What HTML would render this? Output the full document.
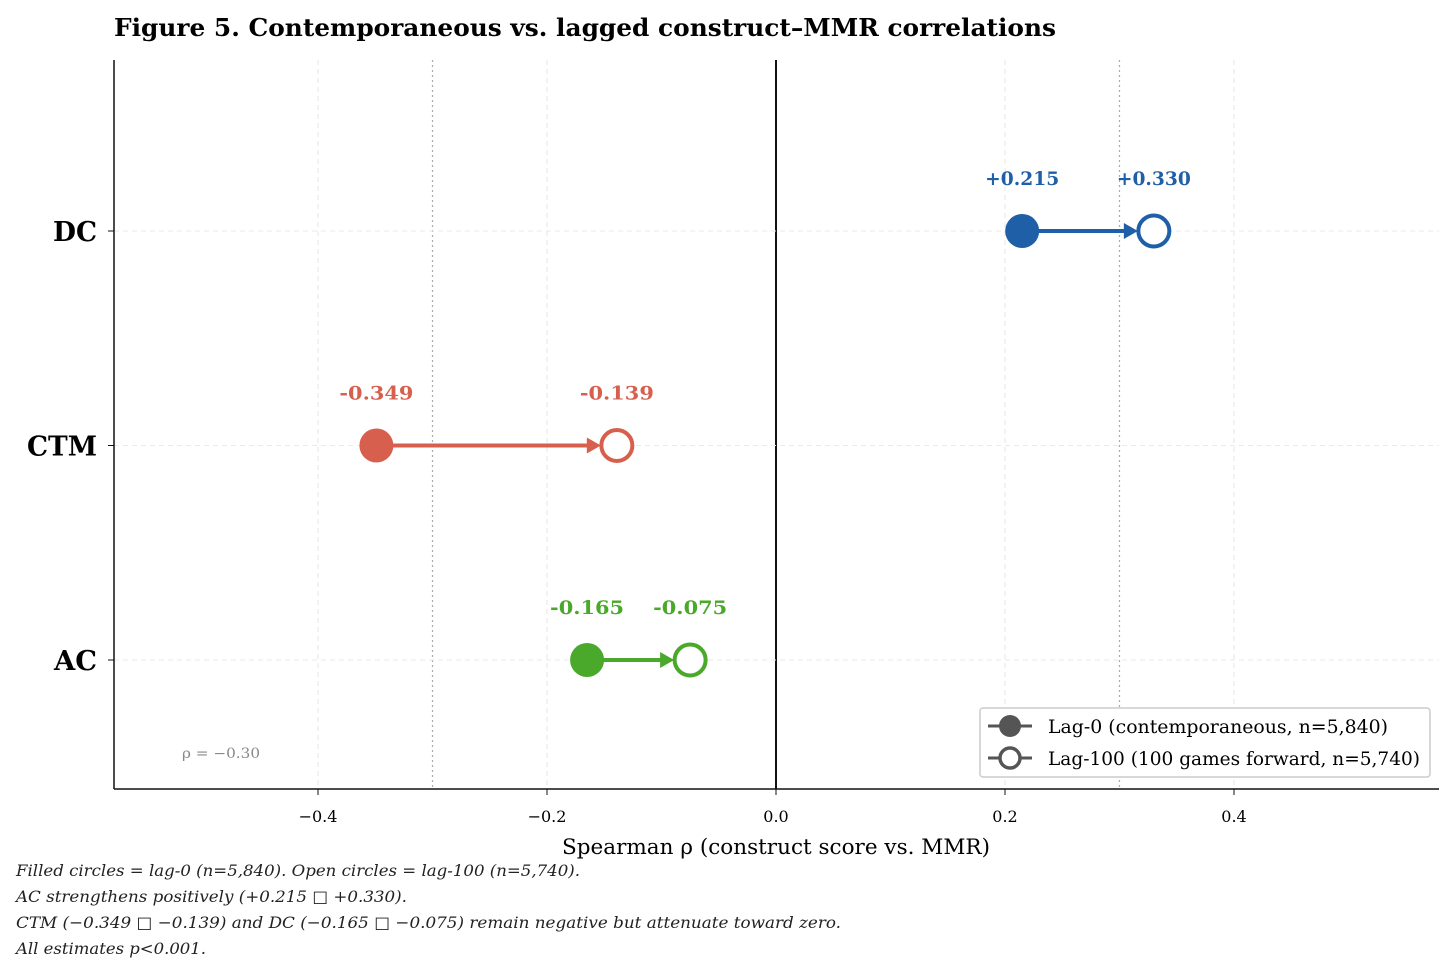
<!DOCTYPE html>
<html><head><meta charset="utf-8">
<style>
body{margin:0;background:#fff;width:1456px;height:976px;overflow:hidden;font-family:"DejaVu Serif","Liberation Serif",serif;}
svg text{font-family:"DejaVu Serif","Liberation Serif",serif;}
</style></head>
<body>
<svg id="chart" width="1456" height="976">
<text x="114" y="36" font-size="24" font-weight="bold" textLength="942" lengthAdjust="spacingAndGlyphs">Figure 5. Contemporaneous vs. lagged construct–MMR correlations</text>
<g id="grid"></g>
<g id="marks"></g>
<line x1="114" y1="60" x2="114" y2="789" stroke="#111" stroke-width="1.5"/>
<line x1="114" y1="789" x2="1439" y2="789" stroke="#111" stroke-width="1.5"/>
<text x="562" y="854" font-size="21" textLength="428" lengthAdjust="spacingAndGlyphs">Spearman ρ (construct score vs. MMR)</text>
<text x="182" y="758" font-size="14" fill="#888" textLength="78" lengthAdjust="spacingAndGlyphs">ρ = −0.30</text>
<g>
<rect x="980" y="708" width="450" height="69" fill="#fff" stroke="#ccc" stroke-width="1.5" rx="3"/>
<g>
<line x1="988" y1="726" x2="1032" y2="726" stroke="#555" stroke-width="3"/>
<circle cx="1010" cy="726" r="11" fill="#555"/>
<text x="1048" y="733" font-size="19" textLength="340" lengthAdjust="spacingAndGlyphs">Lag-0 (contemporaneous, n=5,840)</text></g>
<g>
<line x1="988" y1="758" x2="1032" y2="758" stroke="#555" stroke-width="3"/>
<circle cx="1010" cy="758" r="10" fill="#fff" stroke="#555" stroke-width="3.5"/>
<text x="1048" y="765" font-size="19" textLength="372" lengthAdjust="spacingAndGlyphs">Lag-100 (100 games forward, n=5,740)</text></g>
</g>
<g font-size="16" font-style="italic" fill="#222">
<text x="16" y="876" textLength="564" lengthAdjust="spacingAndGlyphs">Filled circles = lag-0 (n=5,840). Open circles = lag-100 (n=5,740).</text>
<text x="16" y="902" textLength="391" lengthAdjust="spacingAndGlyphs">AC strengthens positively (+0.215 □ +0.330).</text>
<text x="16" y="928" textLength="825" lengthAdjust="spacingAndGlyphs">CTM (−0.349 □ −0.139) and DC (−0.165 □ −0.075) remain negative but attenuate toward zero.</text>
<text x="16" y="954" textLength="190" lengthAdjust="spacingAndGlyphs">All estimates p&lt;0.001.</text>
</g>
</svg>
<script>
const categories = ["DC","CTM","AC"];
const lag0 = [0.215,-0.349,-0.165];
const lag100 = [0.330,-0.139,-0.075];
const colors = ["#1f5fa8","#d6604d","#4aa82a"];
const xTicks = [-0.4,-0.2,0.0,0.2,0.4];
const xTickLabels = ["−0.4","−0.2","0.0","0.2","0.4"];
const ns="http://www.w3.org/2000/svg";
const X=v=>776+v*1145;
const Y=i=>231+i*214.5;
function mk(t,a,p){const e=document.createElementNS(ns,t);for(const k in a)e.setAttribute(k,a[k]);p.appendChild(e);return e;}
const grid=document.getElementById('grid'), marks=document.getElementById('marks');
xTicks.forEach((v,i)=>{
  const l=mk('line',{x1:X(v),y1:60,x2:X(v),y2:789,stroke:v===0?'#111':'#e6e6e6','stroke-width':v===0?2:1,'stroke-dasharray':v===0?'':'5,4'},grid);
  
  
  const tk=mk('line',{x1:X(v),y1:789,x2:X(v),y2:795,stroke:'#111'},grid);
  
  
  const t=mk('text',{x:X(v),y:822,'font-size':16,'text-anchor':'middle'},grid);
  t.textContent=xTickLabels[i];
  
  
});
[-0.3,0.3].forEach(v=>{
  const l=mk('line',{x1:X(v),y1:60,x2:X(v),y2:789,stroke:'#aaa','stroke-width':1.2,'stroke-dasharray':'2,3'},grid);
  
  
});
const yLabelW={DC:44,CTM:70,AC:43};
categories.forEach((c,i)=>{
  const y=Y(i);
  const g=mk('line',{x1:114,y1:y,x2:1439,y2:y,stroke:'#eaeaea','stroke-dasharray':'5,4'},grid);
  
  
  const tk=mk('line',{x1:108,y1:y,x2:114,y2:y,stroke:'#111'},grid);
  
  
  const lb=mk('text',{x:97-yLabelW[c],y:y+10,'font-size':27,'font-weight':'bold',textLength:yLabelW[c],lengthAdjust:'spacingAndGlyphs'},grid);
  lb.textContent=c;
  
  
  const col=colors[i], x0=X(lag0[i]), x1=X(lag100[i]);
  const ln=mk('line',{x1:x0,y1:y,x2:x1-20,y2:y,stroke:col,'stroke-width':4},marks);
  
  
  const ah=mk('polygon',{points:`${x1-30},${y-8} ${x1-16},${y} ${x1-30},${y+8}`,fill:col},marks);
  
  
  const f=mk('circle',{cx:x0,cy:y,r:17,fill:col},marks);
  
  
  const o=mk('circle',{cx:x1,cy:y,r:15.5,fill:'#fff',stroke:col,'stroke-width':4},marks);
  
  
  const fmt=v=>(v>0?'+':'-')+Math.abs(v).toFixed(3);
  [[x0,lag0[i]],[x1,lag100[i]]].forEach(([xx,v])=>{
    const t=mk('text',{x:xx-37,y:y-46,'font-size':19,'font-weight':'bold',fill:col,textLength:74,lengthAdjust:'spacingAndGlyphs'},marks);
    t.textContent=fmt(v);
    
    
  });
});
</script>
</body></html>
